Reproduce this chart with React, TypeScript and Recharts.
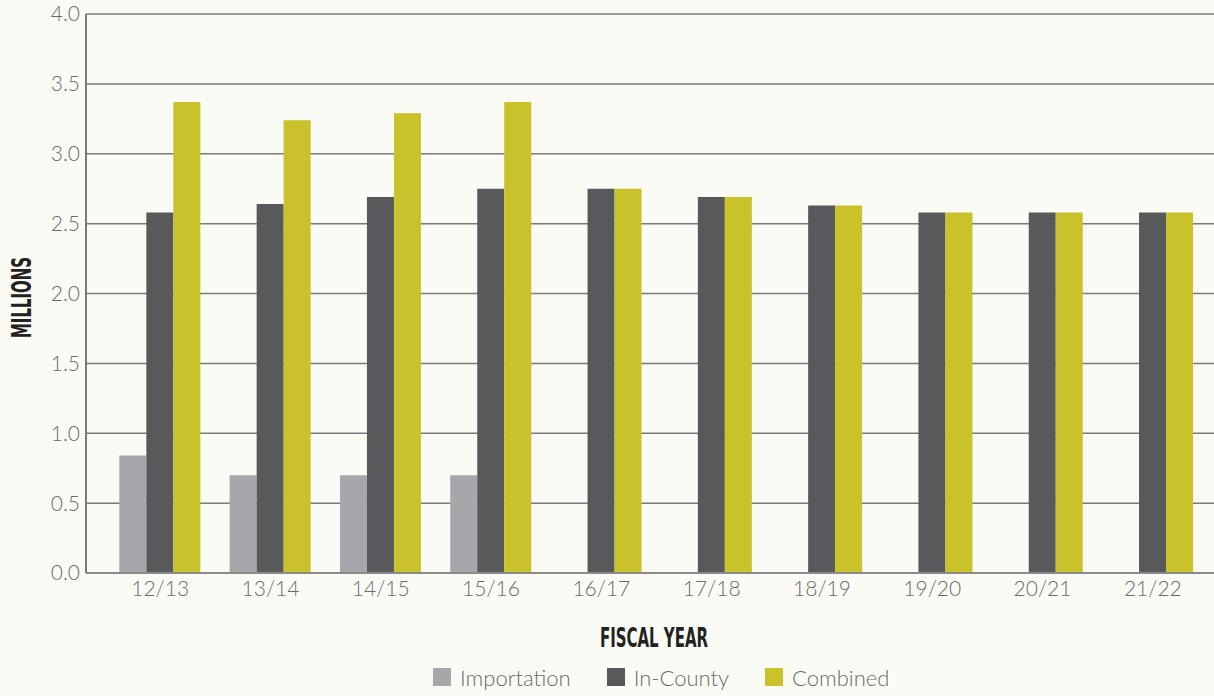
import { BarChart, Bar, XAxis, YAxis, CartesianGrid, Legend, Label } from "recharts";

const years = ["12/13", "13/14", "14/15", "15/16", "16/17", "17/18", "18/19", "19/20", "20/21", "21/22"];
const importation = [0.84, 0.7, 0.7, 0.7, null, null, null, null, null, null];
const inCounty = [2.58, 2.64, 2.69, 2.75, 2.75, 2.69, 2.63, 2.58, 2.58, 2.58];
const combined = [3.37, 3.24, 3.29, 3.37, 2.75, 2.69, 2.63, 2.58, 2.58, 2.58];
const yTicks = [0, 0.5, 1, 1.5, 2, 2.5, 3, 3.5, 4];

const series = [
  { key: "importation", name: "Importation", color: "#a6a7aa" },
  { key: "inCounty", name: "In-County", color: "#58595b" },
  { key: "combined", name: "Combined", color: "#c9c22b" },
];

const data = years.map((year, i) => ({
  year,
  importation: importation[i],
  inCounty: inCounty[i],
  combined: combined[i],
}));

const thinFont = "Lato, 'Open Sans', sans-serif";
const titleFont = "'DejaVu Sans Condensed', 'DejaVu Sans', sans-serif";

// condensed bold titles, squeezed to the width the reference shows
function AxisTitle({ viewBox, text, vertical }: any) {
  const { x, y, width, height } = viewBox;
  if (vertical) {
    const cx = 21;
    const cy = y + height / 2 + 4;
    return (
      <text
        x={cx}
        y={cy}
        transform={`rotate(-90 ${cx} ${cy})`}
        textAnchor="middle"
        dominantBaseline="central"
        fontFamily={titleFont}
        fontWeight={700}
        fontSize={27}
        fill="#222"
        textLength={81}
        lengthAdjust="spacingAndGlyphs"
      >
        {text}
      </text>
    );
  }
  const cx = x + width / 2 + 4;
  const cy = y + 64;
  return (
    <text
      x={cx}
      y={cy}
      textAnchor="middle"
      dominantBaseline="central"
      fontFamily={titleFont}
      fontWeight={700}
      fontSize={27}
      fill="#222"
      textLength={108}
      lengthAdjust="spacingAndGlyphs"
    >
      {text}
    </text>
  );
}

function LegendRow() {
  return (
    <div style={{ display: "flex", alignItems: "center", height: 38, fontFamily: thinFont }}>
      {series.map((s) => (
        <div key={s.key} style={{ display: "flex", alignItems: "center", marginRight: 36 }}>
          <span style={{ width: 18, height: 18, background: s.color, display: "inline-block", marginRight: 9 }} />
          <span style={{ fontSize: 22, fontWeight: 300, color: "#6a6a6a" }}>{s.name}</span>
        </div>
      ))}
    </div>
  );
}

export default function App() {
  return (
    <div style={{ position: "absolute", left: 0, top: 0, width: 1214, height: 696, background: "#fbfbf6" }}>
      <BarChart
        width={1214}
        height={696}
        data={data}
        margin={{ top: 14, right: 0, bottom: 0, left: 0 }}
        barCategoryGap="13%"
        barGap={0}
      >
        <CartesianGrid vertical={false} stroke="#7a7a7a" strokeWidth={1.5} />
        <XAxis
          dataKey="year"
          height={85}
          padding={{ left: 19, right: 6 }}
          axisLine={{ stroke: "#8a8a8a", strokeWidth: 2 }}
          tickLine={false}
          tickSize={4}
          tickMargin={4}
          tick={{ fill: "#6a6a6a", fontSize: 21, fontFamily: thinFont, fontWeight: 300 }}
        >
          <Label content={(props: any) => <AxisTitle {...props} text="FISCAL YEAR" />} />
        </XAxis>
        <YAxis
          width={86}
          domain={[0, 4]}
          ticks={yTicks}
          tickFormatter={(v: number) => v.toFixed(1)}
          axisLine={{ stroke: "#7a7a7a", strokeWidth: 2 }}
          tickLine={false}
          tickSize={4}
          tickMargin={2}
          tick={{ fill: "#6a6a6a", fontSize: 21, fontFamily: thinFont, fontWeight: 300 }}
        >
          <Label content={(props: any) => <AxisTitle {...props} text="MILLIONS" vertical />} />
        </YAxis>
        <Legend
          verticalAlign="bottom"
          content={() => <LegendRow />}
          wrapperStyle={{ left: 433, width: 500, bottom: 0 }}
        />
        {series.map((s) => (
          <Bar key={s.key} dataKey={s.key} name={s.name} fill={s.color} isAnimationActive={false} />
        ))}
      </BarChart>
    </div>
  );
}
